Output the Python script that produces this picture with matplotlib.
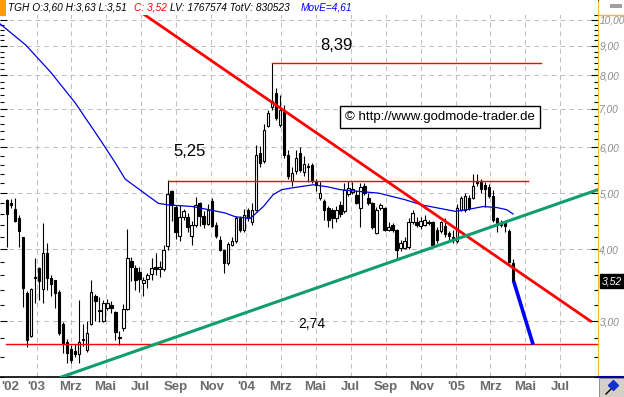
import numpy as np
import pandas as pd
import matplotlib
matplotlib.use('Agg')
import matplotlib.pyplot as plt
import matplotlib.dates as mdates
from matplotlib.patches import Rectangle
from matplotlib.lines import Line2D

# Wochenkerzen TGH (Okt 2002 - Apr 2005)
opens = [4.86, 4.80, 4.70, 4.52, 4.19, 3.36, 2.83, 3.57, 3.71, 3.41,
         3.93, 3.57, 3.53, 3.37, 2.97, 2.76, 2.68, 2.66, 2.63, 2.78,
         2.67, 2.97, 3.32, 3.13, 3.00, 3.16, 3.20, 3.11, 2.80, 2.92,
         3.15, 3.81, 3.71, 3.65, 3.49, 3.55, 3.62, 3.73, 3.69, 3.69,
         4.05, 5.04, 4.73, 4.22, 4.54, 4.54, 4.21, 4.40, 4.81, 4.57,
         4.42, 4.85, 4.40, 4.15, 3.99, 3.78, 4.07, 4.13, 4.52, 4.32,
         4.68, 4.45, 4.68, 5.86, 5.68, 6.55, 7.06, 7.45, 6.57, 6.97,
         5.82, 5.25, 5.46, 5.86, 5.45, 5.55, 5.60, 5.22, 4.90, 4.85,
         4.71, 4.68, 4.52, 4.76, 4.65, 4.98, 5.02, 4.96, 4.72, 5.14,
         4.90, 4.80, 4.26, 4.72, 4.71, 4.32, 4.40, 4.32, 4.02, 4.02,
         4.04, 4.45, 4.46, 4.38, 4.40, 4.46, 4.46, 4.32, 4.30, 4.38,
         4.26, 4.20, 4.13, 4.68, 4.68, 4.91, 4.91, 5.25, 5.23, 5.17,
         5.12, 4.94, 4.52, 4.43, 4.45, 4.30, 3.78]
highs = [4.88, 4.88, 4.90, 4.58, 4.19, 3.38, 3.43, 3.86, 3.72, 4.43,
         4.10, 3.60, 3.54, 3.40, 2.99, 2.79, 2.73, 2.74, 3.27, 2.96,
         3.00, 3.54, 3.34, 3.30, 3.26, 3.28, 3.25, 3.12, 2.88, 3.21,
         4.34, 3.88, 3.75, 3.73, 3.58, 3.64, 3.86, 3.93, 3.81, 4.07,
         5.26, 5.06, 4.76, 4.76, 4.70, 4.61, 4.48, 4.92, 4.83, 4.65,
         4.78, 4.90, 4.45, 4.22, 4.00, 4.12, 4.20, 4.56, 4.56, 4.70,
         4.72, 4.80, 6.05, 6.03, 6.59, 6.97, 8.39, 7.60, 7.40, 7.10,
         5.94, 5.55, 5.95, 6.00, 5.80, 5.65, 5.65, 5.30, 5.25, 4.88,
         4.75, 4.72, 4.75, 4.85, 5.20, 5.25, 5.22, 5.07, 5.21, 5.21,
         5.00, 4.82, 4.74, 4.80, 4.74, 4.46, 4.44, 4.34, 4.14, 4.20,
         4.52, 4.68, 4.55, 4.55, 4.58, 4.50, 4.48, 4.36, 4.48, 4.52,
         4.30, 4.32, 4.78, 4.95, 5.00, 4.96, 5.40, 5.40, 5.30, 5.22,
         5.18, 5.07, 4.55, 4.50, 4.48, 4.33, 3.85]
lows = [4.04, 4.72, 4.45, 4.03, 3.17, 2.70, 2.82, 3.23, 3.27, 3.23,
        3.40, 3.31, 3.16, 2.84, 2.64, 2.54, 2.54, 2.60, 2.54, 2.72,
        2.65, 2.95, 3.00, 2.99, 2.99, 3.14, 3.10, 2.78, 2.73, 2.88,
        3.13, 3.52, 3.39, 3.37, 3.31, 3.43, 3.54, 3.60, 3.58, 3.67,
        3.98, 4.47, 4.17, 4.13, 4.50, 4.29, 4.06, 4.36, 4.38, 4.35,
        4.40, 4.36, 4.18, 3.97, 3.63, 3.76, 4.05, 4.10, 4.28, 4.28,
        4.48, 4.40, 4.65, 5.55, 5.65, 6.50, 6.97, 6.70, 6.50, 5.75,
        5.30, 5.15, 5.40, 5.45, 5.35, 5.23, 5.20, 5.05, 4.86, 4.49,
        4.37, 4.35, 4.45, 4.55, 4.62, 4.95, 4.98, 4.78, 4.37, 4.96,
        4.76, 4.33, 4.24, 4.68, 4.30, 4.30, 4.29, 3.85, 3.97, 4.00,
        4.00, 4.42, 4.36, 4.34, 4.38, 4.40, 4.04, 4.10, 4.27, 4.20,
        4.15, 4.10, 4.10, 4.65, 4.64, 4.68, 4.88, 5.15, 5.00, 4.73,
        4.90, 4.46, 4.28, 4.36, 4.28, 3.78, 3.51]
closes = [4.60, 4.76, 4.47, 4.30, 3.42, 2.78, 3.41, 3.58, 3.52, 3.93,
          3.56, 3.48, 3.35, 2.86, 2.75, 2.64, 2.57, 2.63, 2.76, 2.79,
          2.86, 3.37, 3.25, 3.12, 3.23, 3.23, 3.16, 2.87, 2.81, 3.15,
          3.86, 3.73, 3.53, 3.55, 3.53, 3.60, 3.71, 3.69, 3.72, 3.99,
          4.99, 4.77, 4.29, 4.54, 4.66, 4.36, 4.40, 4.76, 4.57, 4.42,
          4.68, 4.38, 4.21, 3.99, 3.78, 4.08, 4.13, 4.52, 4.32, 4.58,
          4.52, 4.68, 5.83, 5.63, 6.44, 6.89, 7.21, 6.75, 6.97, 5.83,
          5.35, 5.42, 5.76, 5.49, 5.62, 5.56, 5.25, 5.17, 5.00, 4.68,
          4.49, 4.52, 4.68, 4.60, 5.07, 5.11, 5.08, 4.80, 5.12, 5.00,
          4.80, 4.37, 4.68, 4.76, 4.32, 4.37, 4.32, 3.99, 4.10, 4.13,
          4.45, 4.62, 4.40, 4.47, 4.49, 4.44, 4.06, 4.15, 4.45, 4.25,
          4.21, 4.18, 4.72, 4.91, 4.94, 4.72, 5.14, 5.21, 5.09, 5.09,
          4.94, 4.49, 4.40, 4.40, 4.38, 3.80, 3.52]
first_week = '2002-11-10'

# gleitender Durchschnitt (MovE)
ma_dates = ['2002-10-29', '2002-12-13', '2003-01-25', '2003-03-09', '2003-04-22',
            '2003-05-18', '2003-06-04', '2003-07-04', '2003-08-01', '2003-08-19',
            '2003-09-29', '2003-11-02', '2003-11-25', '2003-12-13', '2004-01-08',
            '2004-01-31', '2004-02-17', '2004-03-03', '2004-03-23', '2004-04-27',
            '2004-05-21', '2004-06-13', '2004-07-01', '2004-08-19', '2004-10-04',
            '2004-11-02', '2004-12-01', '2004-12-30', '2005-01-19', '2005-02-17',
            '2005-03-13', '2005-03-30', '2005-04-10']
ma_values = [9.83, 9.03, 8.11, 7.17, 6.18, 5.64, 5.29, 5.03, 4.80, 4.77,
             4.74, 4.67, 4.62, 4.55, 4.52, 4.74, 4.97, 5.07, 5.11, 5.17,
             5.13, 5.07, 5.05, 5.00, 4.87, 4.77, 4.71, 4.65, 4.68, 4.74,
             4.72, 4.68, 4.60]

# Trendlinien und Marken
down_trend = (['2003-06-01', '2005-08-23'], [10.8, 3.0])
up_trend = (['2003-02-13', '2005-09-05'], [2.40, 5.07])
projection = (['2005-04-11', '2005-05-15'], [3.52, 2.73])
level_839 = (['2004-02-15', '2005-05-29'], 8.39)
level_525 = (['2003-08-19', '2005-05-06'], 5.25)
level_274 = (['2002-11-08', '2005-09-05'], 2.74)

tick_dates = ['2002-11-15', '2003-01-01', '2003-03-01', '2003-05-01', '2003-07-01',
              '2003-09-01', '2003-11-01', '2004-01-01', '2004-03-01', '2004-05-01',
              '2004-07-01', '2004-09-01', '2004-11-01', '2005-01-01', '2005-03-01',
              '2005-05-01', '2005-07-01']
tick_labels = ["'02", "'03", 'Mrz', 'Mai', 'Jul', 'Sep', 'Nov', "'04", 'Mrz', 'Mai',
               'Jul', 'Sep', 'Nov', "'05", 'Mrz', 'Mai', 'Jul']
y_major = [3, 4, 5, 6, 7, 8, 9, 10]
last_close = 3.52

W, H = 624, 397
plt.rcParams['font.family'] = ['Liberation Sans', 'DejaVu Sans']
fig = plt.figure(figsize=(W / 100, H / 100), dpi=100)
ax = fig.add_axes([0, 20 / H, 598 / W, 377 / H])
ax.set_yscale('log')

def d(lst):
    return mdates.date2num(pd.to_datetime(lst).to_pydatetime())

x = mdates.date2num(pd.date_range(first_week, periods=len(opens), freq='7D').to_pydatetime())
o = np.array(opens); h = np.array(highs); l = np.array(lows); c = np.array(closes)
up = c >= o
bottom = np.minimum(o, c)
height = np.maximum(np.abs(c - o), 0.012)

# Gitter
for t in tick_dates[1:]:
    ax.axvline(d([t])[0], color='#bdbdbd', lw=0.7, ls=(0, (5, 4)), zorder=1)
for v in y_major:
    ax.axhline(v, color='#bdbdbd', lw=0.7, ls=(0, (5, 4)), zorder=1)

ax.vlines(x, l, h, color='black', lw=0.8, zorder=3)
ax.bar(x[up], height[up], bottom=bottom[up], width=4.3, color='white',
       edgecolor='black', lw=0.8, zorder=4)
ax.bar(x[~up], height[~up], bottom=bottom[~up], width=4.3, color='black',
       edgecolor='black', lw=0.8, zorder=4)

ax.plot(d(ma_dates), ma_values, color='#0000e0', lw=0.9, zorder=5)

for xs, yv in [level_839, level_525, level_274]:
    ax.plot(d(xs), [yv, yv], color='#ff0000', lw=1.0, zorder=5)
ax.plot(d(down_trend[0]), down_trend[1], color='#ff0000', lw=2.0, zorder=6)
ax.plot(d(up_trend[0]), up_trend[1], color='#109e6a', lw=2.2, zorder=6)
ax.plot(d(projection[0]), projection[1], color='#0000ff', lw=2.6, zorder=6,
        solid_capstyle='butt')

ax.text(336 / 598, (377 - 45) / 377, '8,39', transform=ax.transAxes, fontsize=12,
        ha='center', va='center', zorder=7)
ax.text(190 / 598, (377 - 152) / 377, '5,25', transform=ax.transAxes, fontsize=12,
        ha='center', va='center', zorder=7)
ax.text(312 / 598, (377 - 324) / 377, '2,74', transform=ax.transAxes, fontsize=10,
        ha='center', va='center', zorder=7)
ax.text(440 / 598, (377 - 117) / 377, '\u00a9 http://www.godmode-trader.de',
        transform=ax.transAxes, fontsize=9.5, ha='center', va='center', zorder=7,
        bbox=dict(facecolor='white', edgecolor='black', lw=1, pad=3.5))

ax.set_xlim(d(['2002-10-29'])[0], d(['2005-09-05'])[0])
ax.set_ylim(2.40, 10.81)

ax.set_yticks(y_major)
ax.set_yticklabels([f'{v:.2f}'.replace('.', ',') for v in y_major],
                   fontstyle='italic', color='#8a8a8a', fontsize=7.3)
ax.set_yticks([t for t in np.arange(2.4, 10.81, 0.2) if abs(t - round(t)) > 0.05],
              minor=True)
ax.yaxis.set_minor_formatter(plt.NullFormatter())
ax.tick_params(axis='y', which='both', left=True, right=True, labelleft=False,
               labelright=True, direction='in', color='black', pad=1)
ax.tick_params(axis='y', which='major', length=5, width=0.8)
ax.tick_params(axis='y', which='minor', length=3, width=0.8)

ax.set_xticks(d(tick_dates))
ax.set_xticklabels(tick_labels, fontsize=9.5, color='#6a6a6a', fontweight='bold')
ax.tick_params(axis='x', length=0, pad=3)

ax.spines['left'].set_visible(False)
ax.spines['right'].set_color('#f0c020')
ax.spines['bottom'].set_color('black')
ax.spines['bottom'].set_linewidth(1.2)
ax.spines['top'].set_color('black')
ax.spines['top'].set_linewidth(1.2)

# Kopfzeile (deckt Gitter und Trendlinie ab)
ax.add_patch(Rectangle((0, (377 - 15) / 377), 1, 15 / 377, transform=ax.transAxes,
                       facecolor='white', edgecolor='none', zorder=6.5))
fig.add_artist(Rectangle((0, 1 - 16 / H), 6 / W, 16 / H, facecolor='#f5a000',
                         edgecolor='none'))
hy = 1 - 8 / H
hs = 7.3
fig.text(8 / W, hy, 'TGH O:3,60 H:3,63 L:3,51', fontsize=hs, fontstyle='italic', va='center')
fig.text(134 / W, hy, 'C: 3,52', fontsize=hs, fontstyle='italic', va='center', color='#ff0000')
fig.text(170 / W, hy, 'LV: 1767574 TotV: 830523', fontsize=hs, fontstyle='italic', va='center')
fig.text(301 / W, hy, 'MovE=4,61', fontsize=hs, fontstyle='italic', va='center', color='#0000ff')

# letzter Kurs am rechten Rand
ax.text(1.006, last_close, '3,52', transform=ax.get_yaxis_transform(), color='white',
        fontsize=7.5, fontstyle='italic', va='center', ha='left', clip_on=False,
        bbox=dict(facecolor='black', edgecolor='black', pad=1.5), zorder=8)

# rechter Rahmen / Schaltflaeche
fig.add_artist(Line2D([598 / W, 1], [1 - 15 / H, 1 - 15 / H], color='#f0c020', lw=1))
fig.add_artist(Rectangle((610 / W, 1 - 8 / H), 12 / W, 4 / H, facecolor='#a0a0a0',
                         edgecolor='none'))
fig.add_artist(Line2D([598 / W, 1], [20 / H, 20 / H], color='#0000a0', lw=1.5))
fig.add_artist(Rectangle((599 / W, 0), 25 / W, 19 / H, facecolor='#d4d0c8',
                         edgecolor='#808080', lw=0.6))
fig.add_artist(Line2D([606 / W, 616 / W], [3 / H, 13 / H], color='black', lw=1))
fig.add_artist(Line2D([613 / W], [12 / H], marker='D', color='#1030d0', markersize=5))

fig.savefig('out.png', dpi=100)
